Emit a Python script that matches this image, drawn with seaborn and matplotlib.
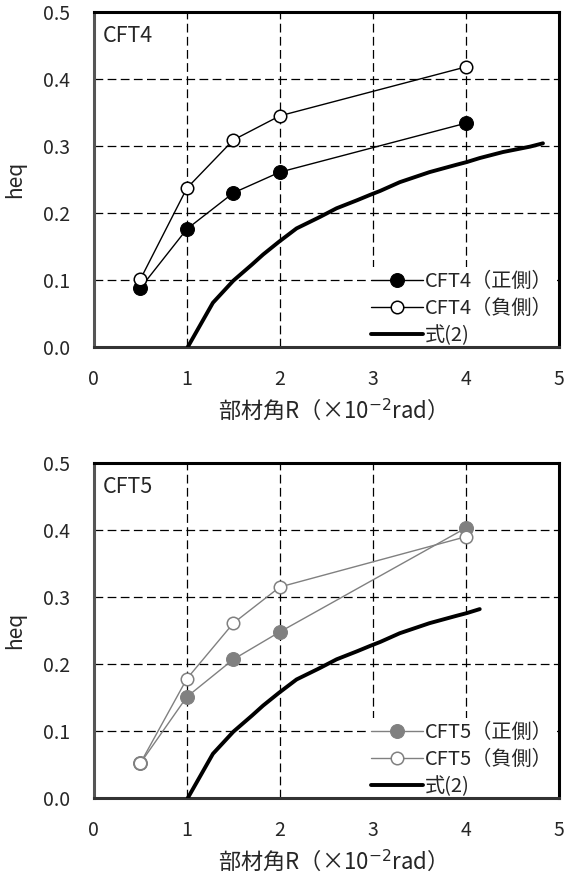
import numpy as np
import pandas as pd
import matplotlib
matplotlib.use("Agg")
import matplotlib.pyplot as plt
import seaborn as sb

# drift angle R (x10^-2 rad)
R_pts = [0.5, 1.0, 1.5, 2.0, 4.0]

# CFT4 measured heq
cft4_pos = [0.088, 0.176, 0.230, 0.261, 0.334]
cft4_neg = [0.101, 0.237, 0.309, 0.345, 0.418]

# CFT5 measured heq
cft5_pos = [0.052, 0.151, 0.207, 0.248, 0.403]
cft5_neg = [0.052, 0.178, 0.261, 0.315, 0.390]

# eq.(2) curve
eq_R = [1.01, 1.28, 1.50, 1.70, 1.82, 1.99, 2.18, 2.43, 2.61, 2.83, 2.97, 3.08,
        3.29, 3.61, 3.90, 4.01, 4.15, 4.40, 4.69, 4.83]
eq_h = [0.000, 0.066, 0.099, 0.123, 0.138, 0.157, 0.177, 0.194, 0.207, 0.219, 0.227, 0.233,
        0.246, 0.261, 0.272, 0.276, 0.282, 0.291, 0.299, 0.304]
eq5_end = 4.18

sb.set_style("white")
plt.rcParams['font.family'] = ['Noto Sans CJK JP', 'DejaVu Sans']
plt.rcParams['axes.unicode_minus'] = False

fig = plt.figure(figsize=(5.69, 8.76), dpi=100)
ax1 = fig.add_axes([0.165, 0.6039, 0.817, 0.3824])
ax2 = fig.add_axes([0.165, 0.0890, 0.817, 0.3824])


def drawPanel(ax, name, pos, neg, eq_x, eq_y, col):
    df = pd.DataFrame({"R": R_pts, "pos": pos, "neg": neg})
    eq = pd.DataFrame({"R": eq_x, "h": eq_y})

    sb.lineplot(x="R", y="pos", data=df, ax=ax, color=col, lw=1.0,
                marker="o", markersize=10, markerfacecolor=col,
                markeredgecolor=col, label=name + "（正側）", zorder=4)
    sb.lineplot(x="R", y="neg", data=df, ax=ax, color=col, lw=1.0,
                marker="o", markersize=9, markerfacecolor="white",
                markeredgecolor=col, markeredgewidth=1.1,
                label=name + "（負側）", zorder=5)
    sb.lineplot(x="R", y="h", data=eq, ax=ax, color="black", lw=2.8,
                label="式(2)", zorder=3)

    ax.set_xlim(0, 5)
    ax.set_ylim(0, 0.5)
    ax.set_xticks([0, 1, 2, 3, 4, 5])
    ax.set_yticks([0, 0.1, 0.2, 0.3, 0.4, 0.5])
    ax.set_yticklabels(["0.0", "0.1", "0.2", "0.3", "0.4", "0.5"])
    ax.tick_params(axis="both", length=0, labelsize=14)
    ax.tick_params(axis="y", pad=17)
    ax.tick_params(axis="x", pad=16)
    ax.grid(True, color="black", linestyle=(0, (7, 3.5)), lw=0.9)
    for s in ax.spines.values():
        s.set_color("black")
        s.set_linewidth(2.2)
    ax.spines["left"].set_color("#555555")
    ax.spines["bottom"].set_color("#333333")

    ax.set_xlabel("部材角R（×10$^{-2}$rad）", fontsize=16, labelpad=5)
    ax.set_ylabel("heq", fontsize=15)
    ax.yaxis.set_label_coords(-0.145, 0.5)
    ax.text(0.02, 0.96, name, transform=ax.transAxes, fontsize=15.5,
            va="top", ha="left")
    leg = ax.legend(loc="lower right", frameon=True, fontsize=14.5,
                    handlelength=2.6, handletextpad=0.1, labelspacing=0.3,
                    borderpad=0.2, borderaxespad=0.0, bbox_to_anchor=(0.996, -0.008),
                    fancybox=False, framealpha=1.0)
    leg.get_frame().set_facecolor("white")
    leg.get_frame().set_edgecolor("none")
    leg.set_zorder(2.4)


drawPanel(ax1, "CFT4", cft4_pos, cft4_neg, eq_R, eq_h, "black")
eq5_R = [r for r in eq_R if r <= eq5_end]
eq5_h = eq_h[:len(eq5_R)]
drawPanel(ax2, "CFT5", cft5_pos, cft5_neg, eq5_R, eq5_h, "#808080")

plt.savefig("out.png", dpi=100)
